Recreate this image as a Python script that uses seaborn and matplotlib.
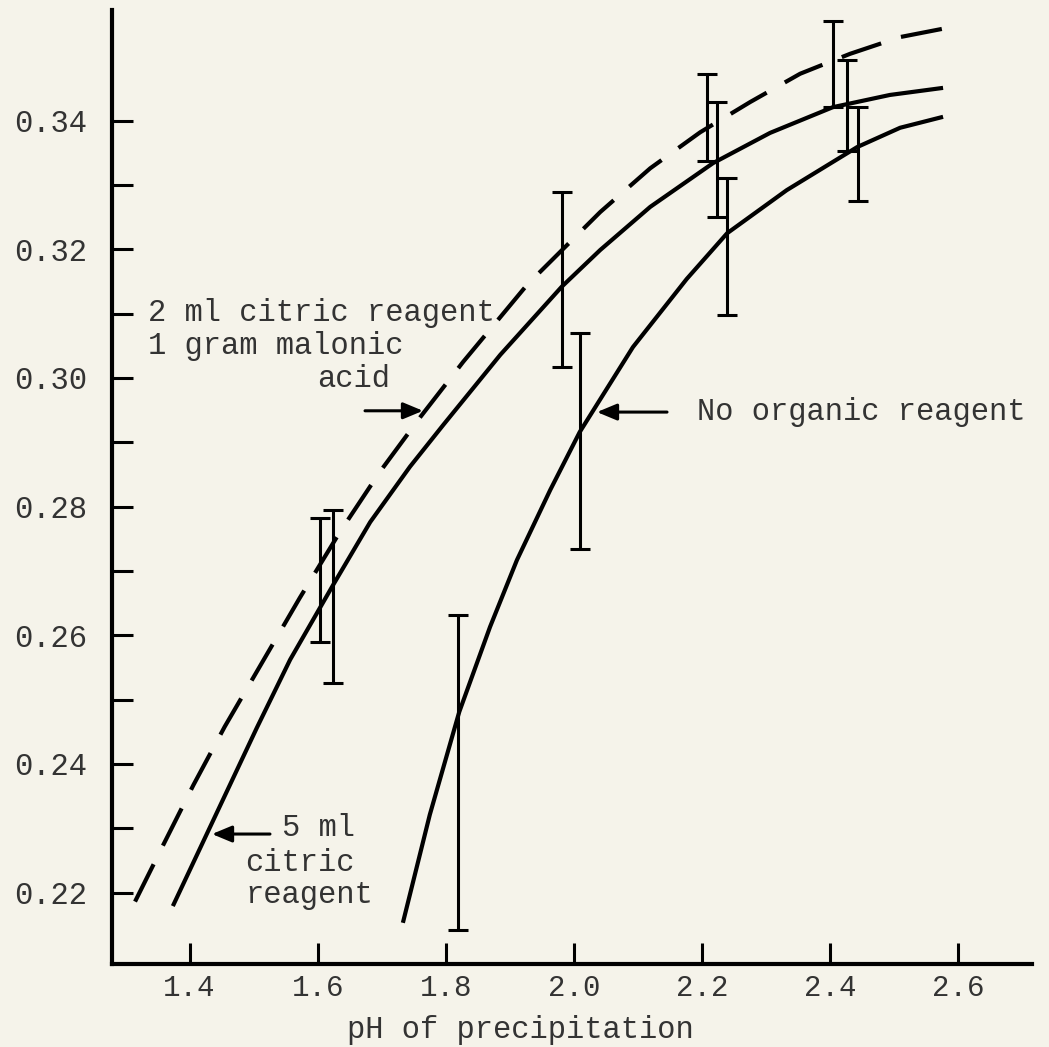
import numpy as np
import pandas as pd
import matplotlib
matplotlib.use("Agg")
import matplotlib.pyplot as plt
import seaborn as sns

# ---------------- data ----------------
# Curve: 2 ml citric reagent + 1 gram malonic acid (dashed)
malonic_ph = [1.315, 1.359, 1.406, 1.455, 1.510, 1.572, 1.635, 1.697, 1.760,
              1.827, 1.927, 2.041, 2.119, 2.197, 2.275, 2.353, 2.431, 2.509, 2.576]
malonic_val = [0.2186, 0.2274, 0.2367, 0.2458, 0.2552, 0.2658, 0.2761, 0.2854, 0.2939,
               0.3025, 0.3145, 0.3258, 0.3326, 0.3382, 0.3429, 0.3473, 0.3504, 0.3530, 0.3543]

# Curve: 5 ml citric reagent (solid)
citric_ph = [1.374, 1.452, 1.505, 1.557, 1.624, 1.682, 1.744, 1.796, 1.885,
             1.981, 2.041, 2.119, 2.217, 2.306, 2.404, 2.493, 2.576]
citric_val = [0.2179, 0.2344, 0.2456, 0.2562, 0.2678, 0.2776, 0.2862, 0.2927, 0.3036,
              0.3142, 0.3199, 0.3266, 0.3334, 0.3381, 0.3421, 0.3440, 0.3451]

# Curve: no organic reagent (solid)
none_ph = [1.733, 1.775, 1.821, 1.869, 1.911, 1.963, 2.009, 2.092, 2.176,
           2.239, 2.332, 2.442, 2.509, 2.576]
none_val = [0.2153, 0.2321, 0.2481, 0.2613, 0.2717, 0.2826, 0.2916, 0.3048, 0.3154,
            0.3225, 0.3292, 0.3359, 0.3389, 0.3406]

# Error bars (pH, low, high)
malonic_bar_ph = [1.604, 2.208, 2.404]
malonic_bar_lo = [0.2590, 0.3337, 0.3421]
malonic_bar_hi = [0.2782, 0.3473, 0.3555]

citric_bar_ph = [1.624, 1.981, 2.223, 2.426]
citric_bar_lo = [0.2526, 0.3017, 0.3250, 0.3353]
citric_bar_hi = [0.2795, 0.3289, 0.3429, 0.3494]

none_bar_ph = [1.819, 2.009, 2.239, 2.443]
none_bar_lo = [0.2142, 0.2734, 0.3098, 0.3275]
none_bar_hi = [0.2632, 0.3070, 0.3311, 0.3421]

x_ticks = [1.4, 1.6, 1.8, 2.0, 2.2, 2.4, 2.6]
x_tick_labels = ["1.4", "1.6", "1.8", "2.0", "2.2", "2.4", "2.6"]
y_major = [0.22, 0.24, 0.26, 0.28, 0.30, 0.32, 0.34]
y_major_labels = ["0.22", "0.24", "0.26", "0.28", "0.30", "0.32", "0.34"]
y_minor = [0.23, 0.25, 0.27, 0.29, 0.31, 0.33]

x_label = "pH of precipitation"

# ---------------- styling ----------------
sns.set_theme(style="ticks")
paper = "#f5f3ea"
ink = "#333333"
plt.rcParams["font.family"] = ["Liberation Mono", "DejaVu Sans Mono"]

fig = plt.figure(figsize=(10.49, 10.47), dpi=100, facecolor=paper)
ax = fig.add_axes([0.1068, 0.0793, 0.9838 - 0.1068, 0.9904 - 0.0793])
ax.set_facecolor(paper)

curves = pd.DataFrame({
    "ph": malonic_ph + citric_ph + none_ph,
    "val": malonic_val + citric_val + none_val,
    "series": (["malonic"] * len(malonic_ph) + ["citric"] * len(citric_ph)
               + ["none"] * len(none_ph)),
})

for name, dashed in [("malonic", True), ("citric", False), ("none", False)]:
    sub = curves[curves["series"] == name]
    sns.lineplot(data=sub, x="ph", y="val", ax=ax, color="black", linewidth=3.0,
                 estimator=None, sort=True)
    line = ax.lines[-1]
    line.set_solid_capstyle("butt")
    if dashed:
        line.set_dashes((10, 5))
        line.set_dash_capstyle("butt")

for xs, lo, hi in [(malonic_bar_ph, malonic_bar_lo, malonic_bar_hi),
                   (citric_bar_ph, citric_bar_lo, citric_bar_hi),
                   (none_bar_ph, none_bar_lo, none_bar_hi)]:
    lo = np.array(lo)
    hi = np.array(hi)
    mid = (lo + hi) / 2
    ax.errorbar(xs, mid, yerr=(hi - lo) / 2, fmt="none", ecolor="black",
                elinewidth=2.2, capsize=7.5, capthick=2.2)

# axes
ax.set_xlim(1.2791, 2.7148)
ax.set_ylim(0.2089, 0.3572)
sns.despine(ax=ax, top=True, right=True)
for s in ["left", "bottom"]:
    ax.spines[s].set_linewidth(3.0)
    ax.spines[s].set_color("black")

ax.set_xticks(x_ticks)
ax.set_xticklabels(x_tick_labels)
ax.set_yticks(y_major)
ax.set_yticklabels(y_major_labels)
ax.set_yticks(y_minor, minor=True)
ax.tick_params(axis="both", which="both", direction="in", length=15, width=2.2,
               color="black", labelcolor=ink)
ax.tick_params(axis="x", which="major", pad=7, labelsize=21)
ax.tick_params(axis="y", which="major", pad=18, labelsize=22)

ax.set_xlabel(x_label, fontsize=22, color=ink)
ax.xaxis.set_label_coords(0.4435, -0.0692)
ax.xaxis.label.set_va("center")
ax.set_ylabel("")

# annotations
arrow_kw = dict(arrowstyle="-|>,head_length=0.6,head_width=0.25", lw=2.2,
                color="black", mutation_scale=20, shrinkA=0, shrinkB=0)
ax.annotate("", xy=(2.0359, 0.2947), xytext=(2.1452, 0.2947), arrowprops=arrow_kw)
ax.text(2.1920, 0.2947, "No organic reagent", fontsize=22, color=ink,
        ha="left", va="center")

ax.annotate("", xy=(1.7644, 0.2949), xytext=(1.6739, 0.2949), arrowprops=arrow_kw)
ax.text(1.3352, 0.3101, "2 ml citric reagent", fontsize=22, color=ink, ha="left", va="center")
ax.text(1.3352, 0.3050, "1 gram malonic", fontsize=22, color=ink, ha="left", va="center")
ax.text(1.5990, 0.2998, "acid", fontsize=22, color=ink, ha="left", va="center")

ax.annotate("", xy=(1.4351, 0.2291), xytext=(1.5256, 0.2291), arrowprops=arrow_kw)
ax.text(1.5444, 0.2301, "5 ml", fontsize=22, color=ink, ha="left", va="center")
ax.text(1.4866, 0.2246, "citric", fontsize=22, color=ink, ha="left", va="center")
ax.text(1.4866, 0.2196, "reagent", fontsize=22, color=ink, ha="left", va="center")

fig.savefig("out.png", dpi=100, facecolor=paper)
